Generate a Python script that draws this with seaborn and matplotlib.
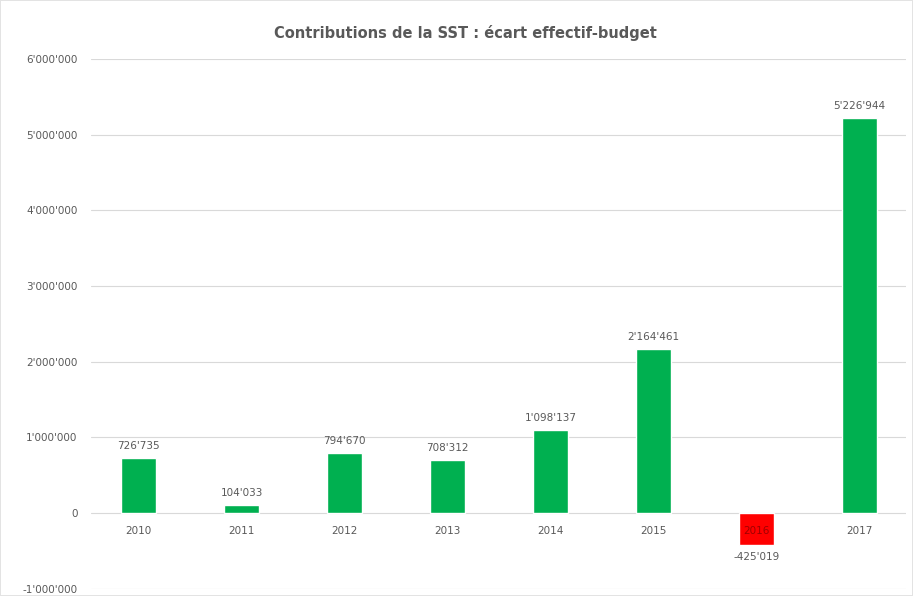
import matplotlib
matplotlib.use("Agg")
import matplotlib.pyplot as plt
import matplotlib.transforms as mtransforms
from matplotlib.ticker import FuncFormatter
import seaborn as sns

# Data
years = ['2010', '2011', '2012', '2013', '2014', '2015', '2016', '2017']
ecart = [726735, 104033, 794670, 708312, 1098137, 2164461, -425019, 5226944]

GREEN = '#00B050'
RED = '#FF0000'
TXT = '#595959'

def swiss(v, pos=None):
    s = f"{abs(int(v)):,}".replace(',', "'")
    return ('-' if v < 0 else '') + s

sns.set_theme(style='white')
plt.rcParams['font.family'] = ['DejaVu Sans']

fig = plt.figure(figsize=(9.13, 5.96), dpi=100)
fig.patch.set_edgecolor('#e3e3e3')
fig.patch.set_linewidth(1.2)
ax = fig.add_axes([0.1, 0.012, 0.892, 0.889])

colors = [RED if v < 0 else GREEN for v in ecart]
sns.barplot(x=years, y=ecart, hue=years, palette=colors, legend=False,
            width=0.34, saturation=1, ax=ax, zorder=3)

ax.set_ylim(-1000000, 6000000)
ax.set_xlim(-0.46, 7.45)
ax.set_yticks(range(-1000000, 6000001, 1000000))
ax.yaxis.set_major_formatter(FuncFormatter(swiss))
ax.tick_params(axis='y', labelsize=7.5, labelcolor=TXT, length=0, pad=10)
ax.set_xticks([])
ax.grid(axis='y', color='#d9d9d9', linewidth=0.8, zorder=0)
for s in ax.spines.values():
    s.set_visible(False)
ax.set_xlabel('')
ax.set_ylabel('')

# category labels just under the zero line
trans = mtransforms.offset_copy(ax.transData, fig=fig, y=-13, units='points')
for i, (yr, v) in enumerate(zip(years, ecart)):
    col = '#A00000' if v < 0 else TXT
    ax.text(i, 0, yr, transform=trans, ha='center', va='center',
            fontsize=7.5, color=col, zorder=5)

# value labels
for i, v in enumerate(ecart):
    if v >= 0:
        ax.annotate(swiss(v), (i, v), xytext=(0, 5), textcoords='offset points',
                    ha='center', va='bottom', fontsize=7.5, color=TXT)
    else:
        ax.annotate(swiss(v), (i, v), xytext=(0, -5), textcoords='offset points',
                    ha='center', va='top', fontsize=7.5, color=TXT)

fig.text(0.51, 0.945, 'Contributions de la SST : écart effectif-budget',
         ha='center', va='center', fontsize=10.5, fontweight='bold', color=TXT)

fig.savefig('out.png', dpi=100)
